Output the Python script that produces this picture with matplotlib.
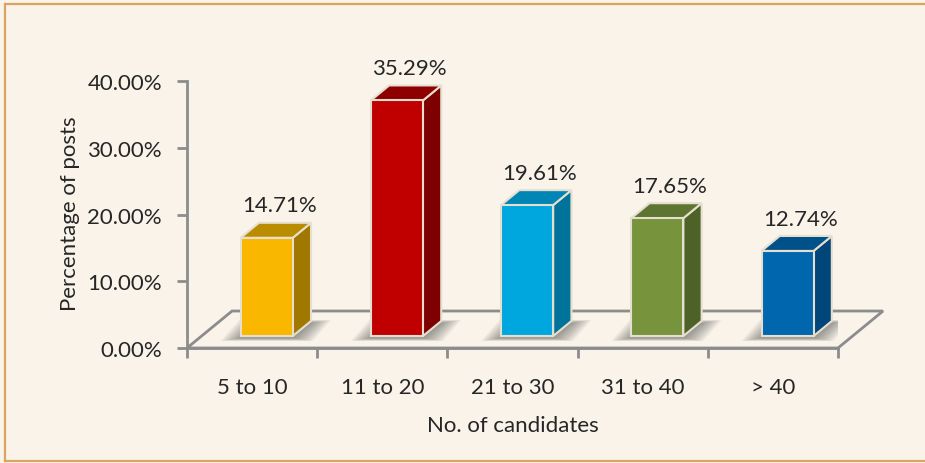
import numpy as np
import matplotlib
matplotlib.use("Agg")
import matplotlib.pyplot as plt
from matplotlib.patches import Polygon, Rectangle

categories = ["5 to 10", "11 to 20", "21 to 30", "31 to 40", "> 40"]
values = [14.71, 35.29, 19.61, 17.65, 12.74]
value_labels = ["14.71%", "35.29%", "19.61%", "17.65%", "12.74%"]
y_ticks = [0, 10, 20, 30, 40]
y_tick_labels = ["0.00%", "10.00%", "20.00%", "30.00%", "40.00%"]

front_cols = ["#F9B700", "#C00000", "#00A6DE", "#77933C", "#0066AE"]
side_cols = ["#A07800", "#7E0000", "#00739A", "#4C6226", "#00467A"]
top_cols = ["#BA8C00", "#8E0000", "#0086B4", "#5D7530", "#00508A"]

bg = "#F9F3EA"
grey = "#8C8C8C"
edge = "#E6DECF"
txt = "#262626"
fs = 16

plt.rcParams['font.family'] = ['Lato', 'DejaVu Sans']

fig = plt.figure(figsize=(9.25, 4.64), dpi=100)
fig.patch.set_facecolor(bg)

# frame round the chart area (right side is cut off)
fig.add_artist(plt.Line2D([5/925, 5/925], [2/464, 459/464], color="#D9A560", lw=1.6))
fig.add_artist(plt.Line2D([5/925, 1], [459/464, 459/464], color="#D9A560", lw=1.6))
fig.add_artist(plt.Line2D([5/925, 1], [2/464, 2/464], color="#D9A560", lw=1.6))

ax = fig.add_axes([187/925, 115/464, 651/925, 267/464])
ax.set_facecolor("none")
ax.set_xlim(0, 5)
ax.set_ylim(0, 40)

px = 5 / 651   # one pixel in x units
py = 40 / 267  # one pixel in y units

# depth of the floor in data units (x, y)
Dx, Dy = 0.346, 5.54
t0, td = 0.325, 0.405
w = 0.40

# floor outline
floor = [(0, 0), (5, 0), (5 + Dx, Dy), (Dx, Dy)]
ax.add_patch(Polygon(floor, closed=True, fc="none", ec=grey, lw=2, zorder=1, clip_on=False))

for i, v in enumerate(values):
    c = i + 0.5
    x0 = c - w / 2 + t0 * Dx
    b = t0 * Dy
    ddx, ddy = td * Dx, td * Dy
    # soft shadow under the bar
    for k in range(12):
        mx = (20 - k * 1.7) * px
        my = (3 - k * 0.25) * py
        sy = -2 * py
        ax.add_patch(Polygon([(x0 - mx, b - my + sy), (x0 + w + mx, b - my + sy),
                              (x0 + w + ddx + mx, b + ddy + my + sy), (x0 + ddx - mx, b + ddy + my + sy)],
                             closed=True, fc="#505050", ec="none", alpha=0.06, zorder=2))
    front = Rectangle((x0, b), w, v, fc=front_cols[i], ec=edge, lw=1.5, zorder=4)
    side = Polygon([(x0 + w, b), (x0 + w + ddx, b + ddy), (x0 + w + ddx, b + ddy + v), (x0 + w, b + v)],
                   closed=True, fc=side_cols[i], ec=edge, lw=1.5, zorder=3)
    top = Polygon([(x0, b + v), (x0 + w, b + v), (x0 + w + ddx, b + v + ddy), (x0 + ddx, b + v + ddy)],
                  closed=True, fc=top_cols[i], ec=edge, lw=1.5, zorder=3)
    ax.add_patch(side)
    ax.add_patch(top)
    ax.add_patch(front)
    ax.text(x0 + w / 2 + ddx * 0.7, b + v + ddy + 1.1, value_labels[i], ha="center", va="bottom",
            fontsize=fs, color=txt, zorder=5)

for s in ["top", "right"]:
    ax.spines[s].set_visible(False)
ax.spines["left"].set_color(grey)
ax.spines["bottom"].set_color(grey)
ax.spines["left"].set_linewidth(2)
ax.spines["bottom"].set_linewidth(2)

ax.set_yticks(y_ticks)
ax.set_yticklabels(y_tick_labels)
ax.set_xticks(np.arange(0, 6))
ax.set_xticklabels([])
ax.set_xticks(np.arange(len(categories)) + 0.5, minor=True)
ax.set_xticklabels(categories, minor=True)
ax.tick_params(axis="x", which="major", length=7, width=2, color=grey)
ax.tick_params(axis="x", which="minor", length=0, pad=21, labelsize=fs, labelcolor=txt)
ax.tick_params(axis="y", length=7, width=2, color=grey, pad=11, labelsize=fs, labelcolor=txt)

ax.set_xlabel("No. of candidates", fontsize=fs, color=txt, labelpad=13)
fig.text(70/925, 1 - 214/464, "Percentage of posts", rotation=90, ha="center", va="center",
         fontsize=fs, color=txt)

fig.savefig("out.png", dpi=100, facecolor=bg)
